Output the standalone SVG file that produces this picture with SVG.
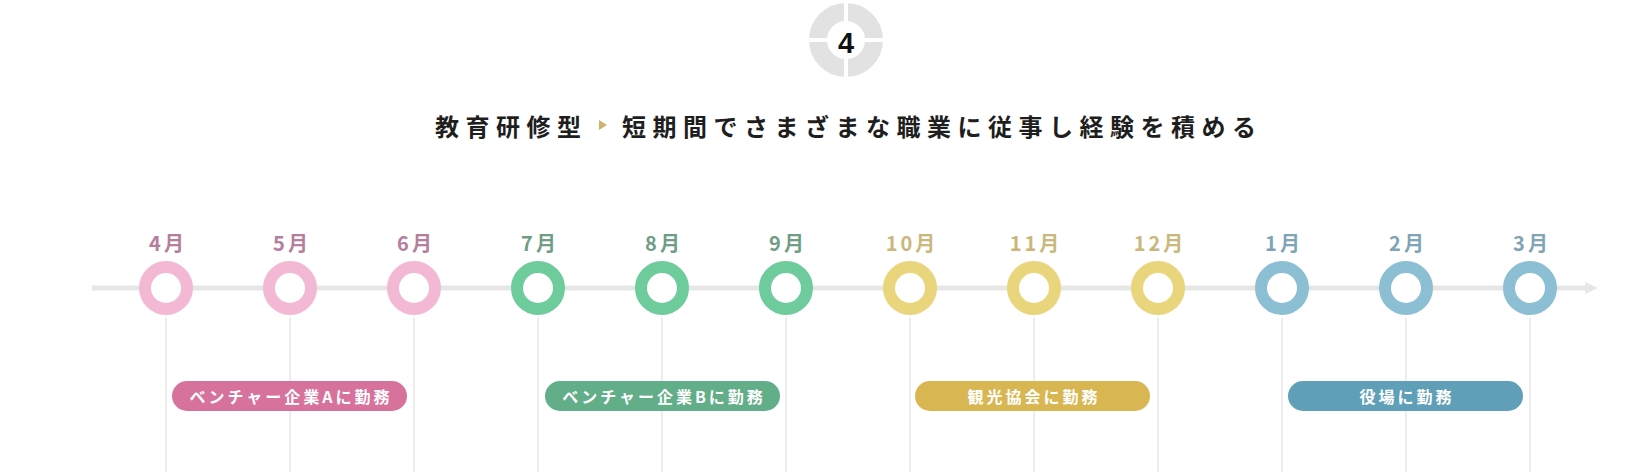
<svg xmlns="http://www.w3.org/2000/svg" width="1652" height="476" viewBox="0 0 1652 476">
<style>
text{font-family:"Noto Sans CJK JP","Noto Sans",sans-serif;dominant-baseline:central;text-anchor:middle}
.title{font-size:24px;font-weight:700;fill:#1e1e1e;letter-spacing:6.5px;text-anchor:start}
.mon{font-size:20px;font-weight:700;letter-spacing:3px}
.ring{fill:#fff;stroke-width:12}
.vline{stroke:#ececec;stroke-width:2}
.pill-t{font-size:16px;font-weight:700;fill:#fff;letter-spacing:3px}
.pink .ring{stroke:#f3b8d3}.pink .mon{fill:#b47e9c}
.green .ring{stroke:#6ecb9b}.green .mon{fill:#6f9d85}
.yellow .ring{stroke:#e8d57c}.yellow .mon{fill:#c9b77c}
.blue .ring{stroke:#8cbfd3}.blue .mon{fill:#7fa4b6}
</style>
<g id="badge">
<circle cx="846" cy="40" r="28" fill="none" stroke="#e2e2e2" stroke-width="18"/>
<rect x="844" y="0" width="4" height="80" fill="#fff"/>
<rect x="806" y="38" width="80" height="4" fill="#fff"/>
<text x="846" y="43" style="font-family:'Liberation Sans',sans-serif;font-size:29px;font-weight:700;fill:#111">4</text>
</g>
<g id="title">
<text class="title" x="435" y="125">教育研修型</text>
<polygon points="599,120 607,125 599,130" fill="#cdb36a"/>
<text class="title" x="622" y="125">短期間でさまざまな職業に従事し経験を積める</text>
</g>
<g id="connectors">
<line x1="92" y1="288" x2="1586" y2="288" stroke="#e6e6e6" stroke-width="5"/>
<polygon points="1585,282 1598,288 1585,294" fill="#e6e6e6"/>
<line class="vline" x1="166" y1="318" x2="166" y2="472"/>
<line class="vline" x1="290" y1="318" x2="290" y2="472"/>
<line class="vline" x1="414" y1="318" x2="414" y2="472"/>
<line class="vline" x1="538" y1="318" x2="538" y2="472"/>
<line class="vline" x1="662" y1="318" x2="662" y2="472"/>
<line class="vline" x1="786" y1="318" x2="786" y2="472"/>
<line class="vline" x1="910" y1="318" x2="910" y2="472"/>
<line class="vline" x1="1034" y1="318" x2="1034" y2="472"/>
<line class="vline" x1="1158" y1="318" x2="1158" y2="472"/>
<line class="vline" x1="1282" y1="318" x2="1282" y2="472"/>
<line class="vline" x1="1406" y1="318" x2="1406" y2="472"/>
<line class="vline" x1="1530" y1="318" x2="1530" y2="472"/>
</g>
<g id="m4" class="pink"><text class="mon" x="168" y="242">4月</text><circle class="ring" cx="166" cy="288" r="21"/></g>
<g id="m5" class="pink"><text class="mon" x="292" y="242">5月</text><circle class="ring" cx="290" cy="288" r="21"/></g>
<g id="m6" class="pink"><text class="mon" x="416" y="242">6月</text><circle class="ring" cx="414" cy="288" r="21"/></g>
<g id="m7" class="green"><text class="mon" x="540" y="242">7月</text><circle class="ring" cx="538" cy="288" r="21"/></g>
<g id="m8" class="green"><text class="mon" x="664" y="242">8月</text><circle class="ring" cx="662" cy="288" r="21"/></g>
<g id="m9" class="green"><text class="mon" x="788" y="242">9月</text><circle class="ring" cx="786" cy="288" r="21"/></g>
<g id="m10" class="yellow"><text class="mon" x="912" y="242">10月</text><circle class="ring" cx="910" cy="288" r="21"/></g>
<g id="m11" class="yellow"><text class="mon" x="1036" y="242">11月</text><circle class="ring" cx="1034" cy="288" r="21"/></g>
<g id="m12" class="yellow"><text class="mon" x="1160" y="242">12月</text><circle class="ring" cx="1158" cy="288" r="21"/></g>
<g id="m1" class="blue"><text class="mon" x="1284" y="242">1月</text><circle class="ring" cx="1282" cy="288" r="21"/></g>
<g id="m2" class="blue"><text class="mon" x="1408" y="242">2月</text><circle class="ring" cx="1406" cy="288" r="21"/></g>
<g id="m3" class="blue"><text class="mon" x="1532" y="242">3月</text><circle class="ring" cx="1530" cy="288" r="21"/></g>
<g id="pillA"><rect x="172" y="381" width="235" height="30" rx="15" fill="#d6729c"/><text class="pill-t" x="291" y="396">ベンチャー企業Aに勤務</text></g>
<g id="pillB"><rect x="545" y="381" width="235" height="30" rx="15" fill="#62ae88"/><text class="pill-t" x="664" y="396">ベンチャー企業Bに勤務</text></g>
<g id="pillC"><rect x="915" y="381" width="235" height="30" rx="15" fill="#d8b652"/><text class="pill-t" x="1034" y="396">観光協会に勤務</text></g>
<g id="pillD"><rect x="1288" y="381" width="235" height="30" rx="15" fill="#609fb8"/><text class="pill-t" x="1407" y="396">役場に勤務</text></g>
</svg>
